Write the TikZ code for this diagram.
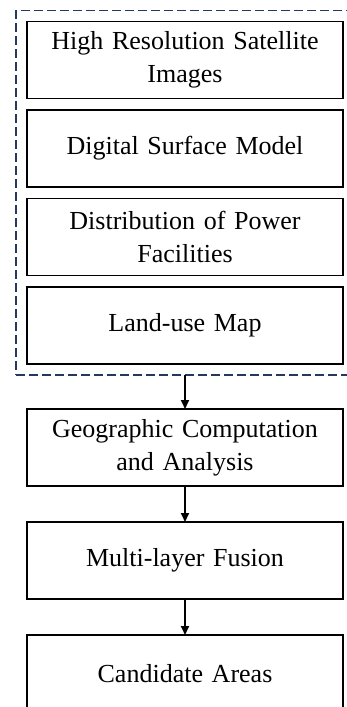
\documentclass[tikz,border=0pt]{standalone}
\usepackage{fontspec}
\setmainfont{Liberation Serif}
\usetikzlibrary{positioning, arrows.meta, fit}
\definecolor{groupnavy}{HTML}{233A5E}

\begin{document}
\begin{tikzpicture}[
        x=1pt, y=-1pt,
        stepbox/.style={
            draw, line width=1.5pt, minimum width=316pt, minimum height=77pt,
            text width=304pt, align=center, inner sep=0pt, outer sep=0pt,
            font=\fontsize{26}{33}\selectfont
        },
        groupbox/.style={
            draw=groupnavy, line width=1.7pt,
            dash pattern=on 8.5pt off 4.5pt, inner sep=11pt, outer sep=0pt
        },
        flow/.style={-{Triangle[width=8pt,length=9pt]}, line width=1.7pt}
    ]

        \useasboundingbox (0,0) rectangle (347,707);

        % input layers
        \node[stepbox] (Satellite) at (185,60) {High Resolution Satellite\\Images};
        \node[stepbox, below=11.5pt of Satellite] (DSM) {Digital Surface Model};
        \node[stepbox, below=11.5pt of DSM] (Power) {Distribution of Power\\Facilities};
        \node[stepbox, below=11.5pt of Power] (LandUse) {Land-use Map};

        \node[groupbox, fit=(Satellite)(LandUse)] (Inputs) {};

        % processing chain
        \node[stepbox, below=45pt of LandUse] (Geo) {Geographic Computation\\and Analysis};
        \node[stepbox, below=36pt of Geo] (Fusion) {Multi-layer Fusion};
        \node[stepbox, below=36pt of Fusion] (Candidate) {Candidate Areas};

        \draw[flow] (Inputs) -- (Geo);
        \draw[flow] (Geo) -- (Fusion);
        \draw[flow] (Fusion) -- (Candidate);

    \end{tikzpicture}
\end{document}
